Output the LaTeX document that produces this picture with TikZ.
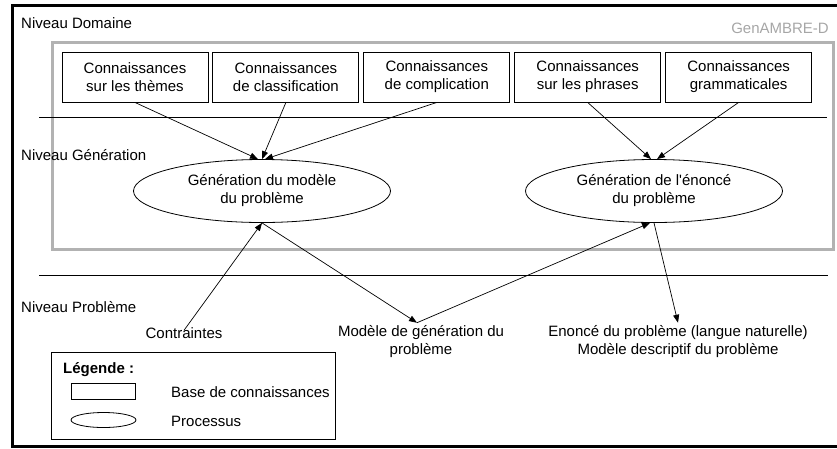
\documentclass[tikz,border=0pt]{standalone}
\usepackage{fontspec}
\setmainfont{Liberation Sans}
\newfontfamily\plainsans{Liberation Sans}
\usetikzlibrary{arrows.meta,positioning,shapes.geometric}
\tikzset{
  >={Triangle[length=8pt,width=6pt]},
  every node/.style={font=\fontsize{15}{18}\selectfont},
  kb/.style   ={draw, line width=0.9pt, minimum width=146pt, minimum height=50pt, align=center, inner sep=0pt},
  proc/.style ={draw, ellipse, line width=0.8pt, minimum width=257pt, minimum height=63pt, align=center, inner sep=0pt},
  lbl/.style  ={align=center, inner sep=3pt},
  lvl/.style  ={anchor=west, inner sep=0pt},
  flow/.style ={->, line width=0.7pt},
  sep/.style  ={line width=0.8pt}
}

\begin{document}
\begin{tikzpicture}[x=1pt, y=-1pt]
\useasboundingbox (0,0) rectangle (837,448);
% outer frame
\draw[line width=3pt] (837,5.5) -| (12.5,446.5) -- (837,446.5);
% GenAMBRE-D frame
\draw[gray!60, line width=3pt] (52,42) rectangle (833,249);
\node[anchor=east, inner sep=0pt, text=gray!70] (gen) at (829,28) {GenAMBRE-D};
% level separators
\draw[sep] (39,117) -- (827,117);
\draw[sep] (39,275) -- (828,275);
\node[lvl] (ndom) at (21,23)  {Niveau Domaine};
\node[lvl] (ngen) at (21,155) {Niveau Génération};
\node[lvl] (npb)  at (21,307) {Niveau Problème};
% knowledge bases
\node[kb] (themes) at (135,77) {Connaissances\\sur les thèmes};
\node[kb, right=4pt of themes] (classif) {Connaissances\\de classification};
\node[kb, right=4pt of classif] (compl) {Connaissances\\de complication};
\node[kb, right=4pt of compl] (phrases) {Connaissances\\sur les phrases};
\node[kb, right=4pt of phrases] (gram) {Connaissances\\grammaticales};
% processes
\node[proc] (genmod) at (262,191) {Génération du modèle\\du problème};
\node[proc] (genenc) at (654,191) {Génération de l{\plainsans'}énoncé\\du problème};
% problem level
\node[lbl] (contr)  at (184,333) {Contraintes};
\node[lbl] (modgen) at (421,342) {Modèle de génération du\\problème};
\node[lbl] (enonce) at (678,342) {Enoncé du problème (langue naturelle)\\Modèle descriptif du problème};
% connectors
\draw[flow] (themes.south)  -- ([xshift=-4pt]genmod.north);
\draw[flow] (classif.south) -- (genmod.north);
\draw[flow] (compl.south)   -- ([xshift=3pt]genmod.north);
\draw[flow] (phrases.south) -- ([xshift=-3pt]genenc.north);
\draw[flow] (gram.south)    -- ([xshift=3pt]genenc.north);
\draw[flow] ([yshift=-6pt]contr.north) -- (genmod.south);
\draw[flow] (genmod.south) -- ([xshift=-4pt]modgen.north);
\draw[flow] ([xshift=-4pt]modgen.north) -- ([xshift=-4pt]genenc.south);
\draw[flow] (genenc.south) -- (enonce.north);
% legend
\node[draw, line width=0.8pt, minimum width=284pt, minimum height=87pt, inner sep=0pt] (leg) at (193,395.5) {};
\node[anchor=west, inner sep=0pt, font=\fontsize{15}{18}\selectfont\bfseries] (legt) at (63,370) {Légende :};
\node[draw, line width=0.8pt, minimum width=64pt, minimum height=16pt, inner sep=0pt] (legkb) at (103,391) {};
\node[draw, ellipse, line width=0.8pt, minimum width=65pt, minimum height=15pt, inner sep=0pt] (legproc) at (103.5,420) {};
\node[lvl] (legkbt)   at (171,392) {Base de connaissances};
\node[lvl] (legproct) at (171,421) {Processus};
\end{tikzpicture}
\end{document}
